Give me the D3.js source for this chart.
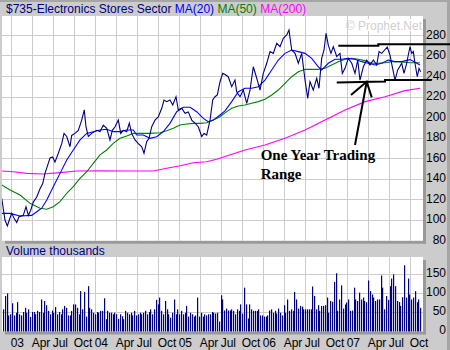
<!DOCTYPE html>
<html><head><meta charset="utf-8">
<script src="https://cdn.jsdelivr.net/npm/d3@7"></script>
<style>
body{margin:0;background:#cccccc}
svg{display:block}
text{font-family:"Liberation Sans",Arial,sans-serif;font-size:12px}
</style>
</head><body><svg id="c" width="450" height="350"></svg>
<script>
const titleText = "$735-Electronics Stores Sector";
const legendItems = ["MA(20)", "MA(50)", "MA(200)"];
const legendColors = ["#0000ff", "#008000", "#ff00ff"];

const priceT = [2002.893,2002.932,2002.960,2002.983,2003.012,2003.039,2003.071,2003.099,2003.150,2003.182,2003.210,2003.238,2003.269,2003.310,2003.349,2003.381,2003.408,2003.448,2003.468,2003.500,2003.527,2003.567,2003.607,2003.635,2003.667,2003.706,2003.726,2003.765,2003.805,2003.845,2003.876,2003.896,2003.924,2003.964,2004.024,2004.063,2004.102,2004.143,2004.182,2004.210,2004.242,2004.281,2004.310,2004.340,2004.381,2004.412,2004.440,2004.480,2004.519,2004.560,2004.587,2004.619,2004.646,2004.679,2004.718,2004.757,2004.798,2004.825,2004.857,2004.896,2004.929,2004.968,2004.995,2005.036,2005.075,2005.114,2005.155,2005.194,2005.233,2005.274,2005.301,2005.333,2005.373,2005.405,2005.432,2005.460,2005.492,2005.524,2005.551,2005.590,2005.631,2005.670,2005.690,2005.730,2005.769,2005.810,2005.849,2005.888,2005.929,2005.968,2006.007,2006.048,2006.087,2006.126,2006.167,2006.206,2006.245,2006.286,2006.313,2006.345,2006.385,2006.424,2006.464,2006.504,2006.536,2006.563,2006.602,2006.643,2006.670,2006.702,2006.730,2006.754,2006.781,2006.813,2006.840,2006.881,2006.920,2006.948,2006.980,2007.019,2007.060,2007.099,2007.131,2007.158,2007.198,2007.238,2007.277,2007.317,2007.357,2007.385,2007.417,2007.483,2007.515,2007.543,2007.575,2007.607,2007.655,2007.682,2007.714,2007.733,2007.754,2007.774,2007.793,2007.813,2007.840,2007.861,2007.881];
const priceV = [120.7,99.5,93.7,99.5,106,101.5,97,102.7,104,112.5,104,109,117,122,130,135,145,155,160,161,156,164.6,174,184,181,171,182,184,187,197,207,190.5,181,184,187,185.7,192,189,177.6,187,190.5,197,184,187,185.7,194,184,177.6,174,171,164.6,176,179,190.5,197,200,208.5,216.6,215,216.6,211.7,219.8,207,208.5,203.6,205,197,194,190.5,181,184,182.4,197,216.6,219.8,221.5,234.4,242.6,241.5,239.3,229.6,236,224.7,219.8,226.3,213.4,226.3,249,237.8,226.3,242.6,252.4,263.8,262.1,272,268.6,276.8,280,284.9,265.4,262.1,252.4,262.1,236,218.2,234.4,226.3,237.8,228,257.2,265.4,281.6,270.2,262.1,268.6,259,262.1,242.6,247.5,257.2,252.4,242.6,255.6,236,249,255.6,250.7,255.6,250.7,263.8,262.1,268.3,260.5,249,236,245.9,252.4,242.6,252.4,260.5,268.6,262,263.8,252.4,239.3,247.5,244.2];

const ma20T = [2002.893,2002.992,2003.111,2003.250,2003.310,2003.369,2003.429,2003.507,2003.587,2003.667,2003.745,2003.825,2003.905,2003.983,2004.063,2004.143,2004.221,2004.301,2004.381,2004.460,2004.500,2004.579,2004.658,2004.738,2004.817,2004.896,2004.976,2005.055,2005.135,2005.214,2005.293,2005.352,2005.412,2005.492,2005.551,2005.631,2005.710,2005.789,2005.869,2005.948,2006.027,2006.107,2006.186,2006.265,2006.345,2006.424,2006.504,2006.583,2006.662,2006.702,2006.781,2006.861,2006.940,2007.019,2007.099,2007.179,2007.257,2007.337,2007.417,2007.495,2007.575,2007.655,2007.754,2007.873];
const ma20V = [106,106,103.4,104,107.6,111,119,132,145,158,167.8,177.6,184,185.7,187.3,188,185.7,185.7,187.3,187.3,182.4,182.4,179.2,180.8,185.7,193.8,205.2,209.5,209.5,205.2,198.7,195.4,197,202,206,215,224.7,228,228,229.6,236,245.9,255.6,262.1,265.4,263.8,262.1,257.2,249,245.9,252.4,256.3,256.3,257.2,256.3,254,252.4,250.7,252.4,255.6,254,254,256,250.7];

const ma50T = [2002.893,2002.992,2003.111,2003.230,2003.349,2003.429,2003.507,2003.587,2003.667,2003.745,2003.825,2003.905,2003.983,2004.063,2004.143,2004.221,2004.301,2004.381,2004.460,2004.539,2004.658,2004.777,2004.857,2004.936,2005.015,2005.095,2005.174,2005.254,2005.333,2005.412,2005.492,2005.551,2005.631,2005.710,2005.789,2005.869,2005.948,2006.027,2006.107,2006.186,2006.265,2006.345,2006.424,2006.504,2006.583,2006.662,2006.742,2006.821,2006.900,2006.980,2007.060,2007.138,2007.218,2007.298,2007.376,2007.456,2007.536,2007.614,2007.754,2007.873];
const ma50V = [133.7,128.8,123.9,115.8,110.9,110,112.5,117.4,125.6,132,140.2,146.6,154.8,163,167.8,174.3,179.2,181.5,184,184,184,184.7,186.6,189,192.2,193.2,193.8,193.8,194.4,197,200.2,204,208.5,210.7,211.7,213.4,215,217.3,221.5,226.3,232.9,239.3,244.2,246.5,246.5,246.5,247.5,250.7,254,256.3,257.2,256.3,255,252.4,252.4,253,254,254,253,253];

const ma200T = [2002.893,2003.031,2003.190,2003.388,2003.587,2003.786,2004.063,2004.381,2004.698,2004.857,2005.015,2005.174,2005.333,2005.452,2005.551,2005.789,2006.027,2006.265,2006.504,2006.742,2006.980,2007.218,2007.456,2007.694,2007.873];
const ma200V = [147.3,146.6,145,144.4,145.7,147.3,147.6,147.3,147.3,150,152.5,155.4,156.4,158.7,161.5,167.8,172.7,179.2,187.3,197,206.8,215,219.8,225.7,228];

const volumeK = [57,92,99,41,44,73,41,48,76,44,41,50,61,48,57,37,50,50,44,53,50,83,48,79,68,53,44,54,48,63,44,50,44,57,66,61,41,41,53,70,70,61,44,105,57,103,38,118,61,57,48,44,50,48,53,53,86,31,53,48,48,44,48,44,32,44,39,31,53,48,44,48,41,53,41,44,48,44,48,53,44,50,57,44,57,82,70,88,53,44,79,57,44,35,48,83,44,57,44,53,44,48,66,38,48,44,38,41,88,38,48,38,44,41,
44,44,50,48,46,48,25,94,83,54,59,54,54,57,53,44,57,53,70,46,114,70,33,70,57,53,53,53,57,41,41,38,38,41,54,57,48,53,46,59,48,41,68,48,83,53,57,53,103,83,59,66,64,57,57,57,57,57,117,92,57,68,53,66,66,68,88,48,79,77,129,152,53,83,120,59,70,75,83,53,54,114,83,79,101,83,88,79,76,133,105,96,88,79,83,83,146,114,57,92,82,118,138,149,118,79,76,66,89,173,88,138,96,83,88,105,76,83,61];

const priceTicks = [100,120,140,160,180,200,220,240,260,280];
const priceLabels = [80,100,120,140,160,180,200,220,240,260,280];
const volTicks = [50,100,150];
const volLabels = [0,50,100,150];
const quarterT = [2003,2003.25,2003.5,2003.75,2004,2004.25,2004.5,2004.75,2005,2005.25,2005.5,2005.75,2006,2006.25,2006.5,2006.75,2007,2007.25,2007.5,2007.75];
const quarterLabels = ["03","Apr","Jul","Oct","04","Apr","Jul","Oct","05","Apr","Jul","Oct","06","Apr","Jul","Oct","07","Apr","Jul","Oct"];

// annotation (in data units)
const rangeHigh = [[2006.900,269.6],[2007.376,269.6],[2007.376,270.9],[2008.23,270.9]];
const rangeLow = [[2006.881,233.7],[2007.456,234.6],[2007.456,236.1],[2008.012,236.1]];
const arrowShaft = [[2007.099,172.7],[2007.238,234.4]];
const arrowHead = [[2007.051,221.5],[2007.238,234.4],[2007.298,219.2]];
const annotationLines = ["One Year Trading","Range"];
const annotationAt = [2005.976, 158];

const svg = d3.select("#c");
const W = 450, H = 350;
const P = {l:2, r:423, t:16, b:240.7};
const V = {l:2, r:423, t:257, b:331.5};

const x = d3.scaleLinear().domain([2002.8964, 2007.9083]).range([P.l, P.r]);
const y = d3.scaleLinear().domain([80, 280]).range([240, 35]);
const yv = d3.scaleLinear().domain([0, 150]).range([331, 274]);
const xb = d3.scaleBand().domain(d3.range(volumeK.length)).range([3, 422]);

svg.append("rect").attr("width",W).attr("height",H).attr("fill","#cccccc");
svg.append("rect").attr("x",0).attr("y",0).attr("width",W).attr("height",2).attr("fill","#a6a6a6");
svg.append("rect").attr("x",447).attr("y",0).attr("width",3).attr("height",H).attr("fill","#a6a6a6");

// title / legend
const tt = svg.append("text").attr("x",6).attr("y",13);
tt.append("tspan").attr("fill","#000080").text(titleText);
legendItems.forEach((s,i)=>tt.append("tspan").attr("fill",legendColors[i]).text(" "+s));

// panels
function panel(r){
  svg.append("rect").attr("x",r.r).attr("y",r.t+3).attr("width",3).attr("height",r.b-r.t).attr("fill","#999999");
  svg.append("rect").attr("x",r.l+3).attr("y",r.b).attr("width",r.r-r.l).attr("height",3).attr("fill","#999999");
  svg.append("rect").attr("x",r.l).attr("y",r.t).attr("width",r.r-r.l).attr("height",r.b-r.t).attr("fill","#ffffff");
}
panel(P); panel(V);

const grid = svg.append("g").attr("stroke","#cccccc").attr("stroke-width",1).attr("shape-rendering","crispEdges");
quarterT.forEach(q=>{
  const xx = Math.round(x(q))+0.5;
  grid.append("line").attr("x1",xx).attr("x2",xx).attr("y1",P.t).attr("y2",P.b);
  grid.append("line").attr("x1",xx).attr("x2",xx).attr("y1",V.t).attr("y2",V.b);
});
priceTicks.forEach(v=>{
  const yy = Math.round(y(v))+0.5;
  grid.append("line").attr("x1",P.l).attr("x2",P.r).attr("y1",yy).attr("y2",yy);
});
volTicks.forEach(v=>{
  const yy = Math.round(yv(v))+0.5;
  grid.append("line").attr("x1",V.l).attr("x2",V.r).attr("y1",yy).attr("y2",yy);
});

// watermark
svg.append("rect").attr("x",355).attr("y",19).attr("width",68).attr("height",12).attr("fill","#ffffff");
svg.append("text").attr("x",422).attr("y",29.5).attr("text-anchor","end").attr("fill","#d0d0d0").text("\u00a9 Prophet.Net");

// clip
svg.append("clipPath").attr("id","pc").append("rect").attr("x",P.l).attr("y",P.t).attr("width",P.r-P.l).attr("height",P.b-P.t);
const plot = svg.append("g").attr("clip-path","url(#pc)");
const line = d3.line().x(d=>x(d[0])).y(d=>y(d[1]));
function series(T,Vv,color){
  plot.append("path").datum(T.map((t,i)=>[t,Vv[i]])).attr("d",line).attr("fill","none").attr("stroke",color).attr("stroke-width",1.1);
}
series(ma200T, ma200V, "#ff00ff");
series(ma50T, ma50V, "#008000");
series(ma20T, ma20V, "#0000ff");
series(priceT, priceV, "#000080");

// volume
svg.append("g").selectAll("rect").data(volumeK).join("rect")
  .attr("x",(d,i)=>Math.round(xb(i)))
  .attr("y",d=>yv(d))
  .attr("width",1.2)
  .attr("height",d=>yv(0)-yv(d)+0.5)
  .attr("fill","#000080");

// volume label
svg.append("text").attr("x",6).attr("y",254.5).attr("fill","#000080").text("Volume  thousands");

// axes labels
svg.append("g").selectAll("text").data(priceLabels).join("text")
  .attr("x",446).attr("y",d=>y(d)+3.5).attr("text-anchor","end").attr("fill","#000000").text(d=>d);
svg.append("g").selectAll("text").data(volLabels).join("text")
  .attr("x",446).attr("y",d=>yv(d)+3).attr("text-anchor","end").attr("fill","#000000").text(d=>d);
svg.append("g").selectAll("text").data(quarterT).join("text")
  .attr("x",d=>x(d)).attr("y",347).attr("fill","#000000").text((d,i)=>quarterLabels[i]);

// annotations
const al = d3.line().x(d=>x(d[0])).y(d=>y(d[1]));
const ann = svg.append("g").attr("fill","none").attr("stroke","#000000").attr("stroke-width",2);
[rangeHigh, rangeLow, arrowShaft, arrowHead].forEach(p=>ann.append("path").attr("d",al(p)));
const at = svg.append("text").attr("x",x(annotationAt[0])).attr("y",y(annotationAt[1]))
  .attr("style","font-family:'Liberation Serif','Times New Roman',serif;font-size:15px;font-weight:bold").attr("fill","#000000");
annotationLines.forEach((s,i)=>at.append("tspan").attr("x",x(annotationAt[0])).attr("dy",i?19:0).text(s));
</script>
</body></html>
